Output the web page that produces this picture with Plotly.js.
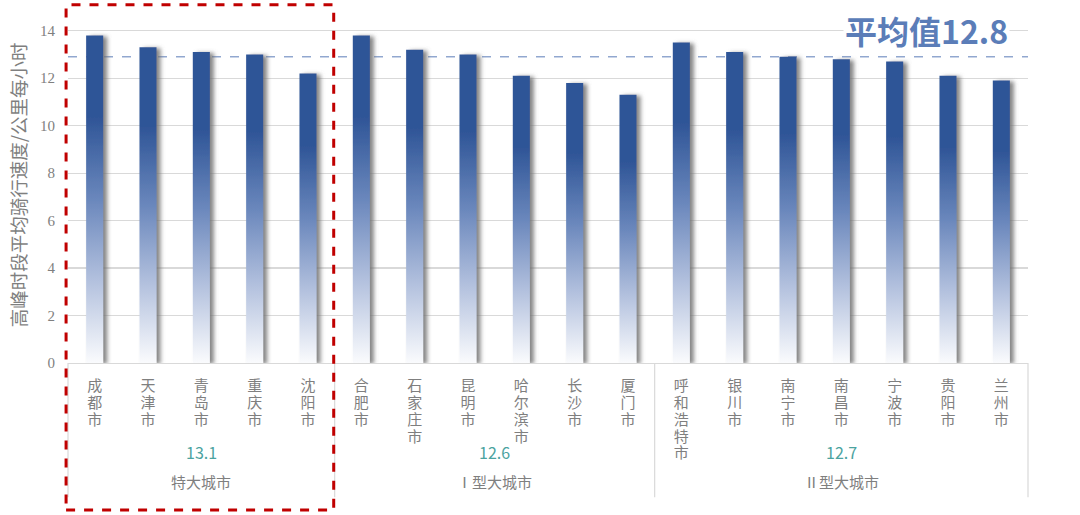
<!DOCTYPE html>
<html>
<head>
<meta charset="utf-8">
<script src="https://cdn.plot.ly/plotly-3.0.1.min.js"></script>
<style>body{margin:0;padding:0;background:#fff;} #chart{width:1080px;height:515px;}</style>
</head>
<body>
<div id="chart"></div>
<script>
// ---- data ----
const cities = ["成都市","天津市","青岛市","重庆市","沈阳市",
                "合肥市","石家庄市","昆明市","哈尔滨市","长沙市","厦门市",
                "呼和浩特市","银川市","南宁市","南昌市","宁波市","贵阳市","兰州市"];
const speeds = [13.8,13.3,13.1,13.0,12.2,
                13.8,13.2,13.0,12.1,11.8,11.3,
                13.5,13.1,12.9,12.8,12.7,12.1,11.9];
const groupNames = ["特大城市","Ⅰ型大城市","Ⅱ型大城市"];
const groupAverages = ["13.1","12.6","12.7"];
const groupSizes = [5,6,7];
const overallAverageLine = 12.9;
const overallAverageLabel = "平均值12.8";
const yTicks = [0,2,4,6,8,10,12,14];

// vertical tick labels: one character per line
const tickText = cities.map(c => c.split("").join("<br>"));
const idx = cities.map((_, i) => i);

// group boundaries / centers from group sizes
let starts = [], acc = 0;
groupSizes.forEach(s => { starts.push(acc); acc += s; });
const n = cities.length;
const toPaper = v => (v + 0.5) / n;

const shapes = [];
// average dashed line
shapes.push({type:"line", xref:"paper", x0:0, x1:1, yref:"y", y0:overallAverageLine, y1:overallAverageLine,
  line:{color:"#5B7DB8", width:1, dash:"dash"}, layer:"below"});
// group separators
const seps = [0].concat(starts.slice(1).map(s => s - 0.5)).concat([n - 0.5]);
seps.forEach((s, k) => {
  const xp = k === 0 ? 0 : toPaper(s);
  shapes.push({type:"line", xref:"paper", x0:xp, x1:xp, yref:"paper", y0:-0.377, y1:0,
    line:{color:"#D9D9D9", width:1.2}});
});
// red dashed highlight box around first group
shapes.push({type:"rect", xref:"paper", x0:-0.002, x1:toPaper(groupSizes[0]-0.5)-0.001,
  yref:"paper", y0:-0.413, y1:1.006, line:{color:"#C00000", width:3, dash:"dash"}, fillcolor:"rgba(0,0,0,0)"});

const annotations = [];
groupSizes.forEach((s, g) => {
  const center = starts[g] + (s - 1) / 2;
  annotations.push({x:center, xref:"x", y:-0.25, yref:"paper", yanchor:"middle", xanchor:"center",
    text:groupAverages[g], showarrow:false,
    font:{family:"Noto Sans CJK SC, sans-serif", size:16, color:"#4BA3A0"}});
  annotations.push({x:center, xref:"x", y:-0.333, yref:"paper", yanchor:"middle", xanchor:"center",
    text:groupNames[g], showarrow:false,
    font:{family:"Noto Sans CJK SC, sans-serif", size:15, color:"#7F7F7F"}});
});
annotations.push({x:0.894, xref:"paper", xanchor:"center", y:14.05, yref:"y", yanchor:"middle",
  text:"<b>"+overallAverageLabel+"</b>", showarrow:false,
  bgcolor:"#FFFFFF", borderpad:1,
  font:{family:"Noto Sans CJK SC, sans-serif", size:32, color:"#5B7DB8"}});

const trace = {
  type:"bar", x:idx, y:speeds, width:0.32,
  marker:{color:"#2F5597", line:{width:0}},
  hoverinfo:"skip"
};

const layout = {
  width:1080, height:515,
  margin:{l:68, r:52, t:7, b:152},
  paper_bgcolor:"#FFFFFF", plot_bgcolor:"#FFFFFF",
  showlegend:false,
  xaxis:{
    type:"linear", range:[-0.5, n-0.5], tickmode:"array", tickvals:idx, ticktext:tickText,
    showgrid:false, zeroline:false, showline:true, linecolor:"#D9D9D9", linewidth:1.2,
    ticks:"", ticklabelstandoff:9,
    tickfont:{family:"Noto Sans CJK SC, sans-serif", size:15, color:"#7F7F7F"},
    fixedrange:true
  },
  yaxis:{
    range:[0,15], tickmode:"array", tickvals:yTicks, ticktext:yTicks.map(String),
    showgrid:true, gridcolor:"#D9D9D9", gridwidth:1.2, zeroline:false, showline:false,
    ticks:"", ticklabelstandoff:12,
    tickfont:{family:"Liberation Serif, serif", size:15, color:"#7F7F7F"},
    title:{text:"高峰时段平均骑行速度/公里每小时", standoff:8,
      font:{family:"Noto Sans CJK SC, sans-serif", size:18.5, color:"#7F7F7F"}},
    fixedrange:true
  },
  shapes:shapes,
  annotations:annotations,
  bargap:0.68
};

Plotly.newPlot("chart", [trace], layout, {staticPlot:true, displayModeBar:false}).then(gd => {
  const svg = gd.querySelector("svg.main-svg");
  const NS = "http://www.w3.org/2000/svg";
  let defs = svg.querySelector("defs");
  if (!defs) { defs = document.createElementNS(NS, "defs"); svg.insertBefore(defs, svg.firstChild); }
  const grad = document.createElementNS(NS, "linearGradient");
  grad.setAttribute("id", "barGrad");
  grad.setAttribute("x1", "0"); grad.setAttribute("y1", "0");
  grad.setAttribute("x2", "0"); grad.setAttribute("y2", "1");
  [["0","#2F5597"],["0.25","#2F5597"],["0.5","#6A87BC"],["0.75","#B3C1DE"],["1","#FAFBFD"]].forEach(([o,c]) => {
    const st = document.createElementNS(NS, "stop");
    st.setAttribute("offset", o); st.setAttribute("stop-color", c);
    grad.appendChild(st);
  });
  defs.appendChild(grad);
  const filt = document.createElementNS(NS, "filter");
  filt.setAttribute("id", "barShadow");
  filt.setAttribute("x", "-20%"); filt.setAttribute("y", "-5%");
  filt.setAttribute("width", "170%"); filt.setAttribute("height", "110%");
  const ds = document.createElementNS(NS, "feDropShadow");
  ds.setAttribute("dx", "4"); ds.setAttribute("dy", "1");
  ds.setAttribute("stdDeviation", "2");
  ds.setAttribute("flood-color", "#707070"); ds.setAttribute("flood-opacity", "0.85");
  filt.appendChild(ds);
  defs.appendChild(filt);
  gd.querySelectorAll(".barlayer .point path").forEach(p => {
    p.style.fill = "url(#barGrad)";
    p.setAttribute("filter", "url(#barShadow)");
  });
  // tighten the stacked-character line spacing of the city labels
  gd.querySelectorAll(".xtick text").forEach(t => {
    t.querySelectorAll("tspan.line").forEach((sp, i) => {
      sp.setAttribute("dy", (i * 1.12).toFixed(2) + "em");
    });
  });
});
</script>
</body>
</html>
